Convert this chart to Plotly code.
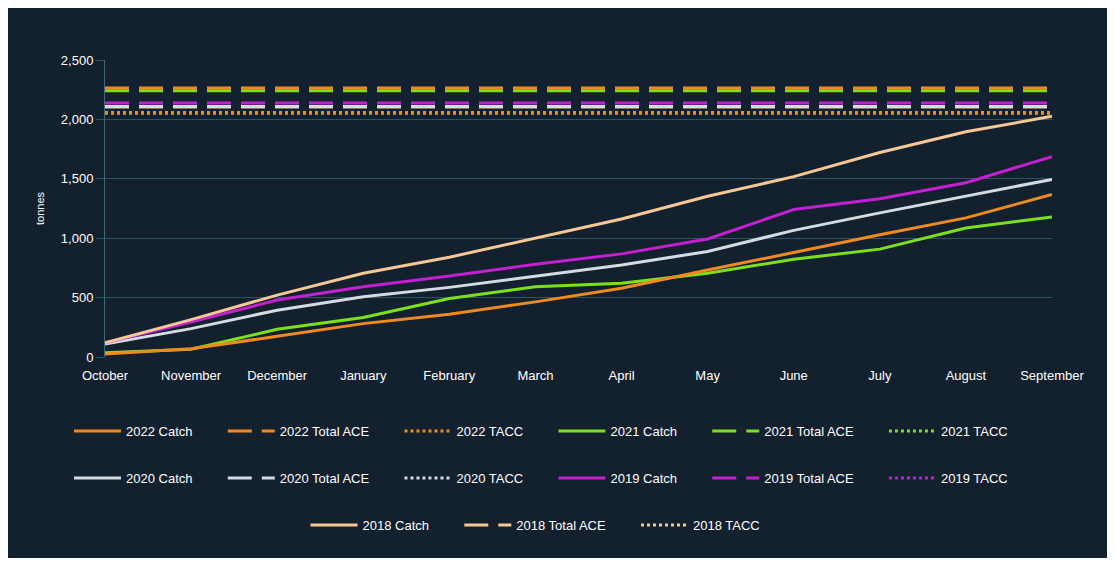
import plotly.graph_objects as go

months = ["October", "November", "December", "January", "February", "March",
          "April", "May", "June", "July", "August", "September"]

years = ["2022", "2021", "2020", "2019", "2018"]

catch_2022 = [25, 70, 174, 281, 360, 464, 578, 733, 879, 1029, 1171, 1368]
catch_2021 = [35, 65, 233, 332, 493, 591, 620, 705, 823, 908, 1086, 1179]
catch_2020 = [110, 239, 394, 507, 586, 682, 775, 888, 1066, 1213, 1354, 1495]
catch_2019 = [120, 295, 479, 591, 682, 781, 868, 993, 1241, 1332, 1467, 1687]
catch_2018 = [120, 315, 521, 705, 840, 1001, 1162, 1353, 1518, 1721, 1896, 2026]

total_ace = {"2022": 2265, "2021": 2242, "2020": 2108, "2019": 2138, "2018": 2104}
tacc = {"2022": 2055, "2021": 2055, "2020": 2055, "2019": 2055, "2018": 2055}

catches = {"2022": catch_2022, "2021": catch_2021, "2020": catch_2020,
           "2019": catch_2019, "2018": catch_2018}

colors = {"2022": "#f08a1e", "2021": "#7ee01c", "2020": "#d4dbe2",
          "2019": "#c41fd0", "2018": "#f5c896"}

legend_of = {"2022": "legend", "2021": "legend", "2020": "legend2",
             "2019": "legend2", "2018": "legend3"}

row_end = {"2021 TACC", "2019 TACC", "2018 TACC"}

BG = "#13202e"
GRID = "#2c5466"
# the page adds an 8px body margin; the figure is sized to the dark panel
W, H = 1099, 550
ML, MR, MT, MB = 97, 55, 52, 201
PAD = "\u00a0" * 7


def label(n):
    return n if n in row_end else n + PAD


traces = {}
for y in years:
    c = colors[y]
    lg = legend_of[y]
    n = y + " Catch"
    traces[n] = go.Scatter(x=months, y=catches[y], mode="lines", name=label(n),
                           line=dict(color=c, width=3), legend=lg)
    n = y + " Total ACE"
    traces[n] = go.Scatter(x=months, y=[total_ace[y]] * len(months), mode="lines",
                           name=label(n),
                           line=dict(color=c, width=3, dash="24px,10px"), legend=lg)
    n = y + " TACC"
    traces[n] = go.Scatter(x=months, y=[tacc[y]] * len(months), mode="lines",
                           name=label(n),
                           line=dict(color=c, width=3, dash="3px,3px"), legend=lg)

legend_order = list(traces.keys())
draw_order = ["2018 TACC", "2020 TACC", "2019 TACC", "2021 TACC", "2022 TACC",
              "2018 Total ACE", "2020 Total ACE", "2019 Total ACE", "2021 Total ACE", "2022 Total ACE",
              "2021 Catch", "2022 Catch", "2020 Catch", "2019 Catch", "2018 Catch"]

fig = go.Figure()
for n in draw_order:
    t = traces[n]
    t.legendrank = legend_order.index(n) + 1
    fig.add_trace(t)

legend_common = dict(orientation="h", xref="container", yref="container",
                     xanchor="center", yanchor="middle",
                     bgcolor="rgba(0,0,0,0)", itemwidth=47,
                     font=dict(family="Arial", size=13, color="#ffffff"),
                     traceorder="normal")

fig.update_layout(
    width=W, height=H,
    paper_bgcolor=BG,
    plot_bgcolor=BG,
    margin=dict(l=ML, r=MR, t=MT, b=MB, autoexpand=False),
    font=dict(family="Arial", color="#ffffff"),
    showlegend=True,
    legend=dict(**legend_common, x=0.485, y=1 - 423 / H),
    legend2=dict(**legend_common, x=0.485, y=1 - 470 / H),
    legend3=dict(**legend_common, x=0.48, y=1 - 517 / H),
    xaxis=dict(type="category", range=[0, 11], showgrid=False, zeroline=False,
               showline=False, ticks="outside", ticklen=6, tickcolor=BG,
               tickfont=dict(family="Arial", size=13, color="#ffffff")),
    yaxis=dict(range=[0, 2500], tickvals=[0, 500, 1000, 1500, 2000, 2500],
               tickformat=",", showgrid=True, gridcolor=GRID, gridwidth=1,
               zeroline=False, showline=True, linecolor="#3d6878", linewidth=1,
               ticks="outside", ticklen=8, tickcolor=GRID,
               tickfont=dict(family="Arial", size=13, color="#ffffff"),
               title=dict(text="tonnes", font=dict(family="Arial", size=11, color="#ffffff"),
                          standoff=14)),
)

fig.write_html("out.html")
